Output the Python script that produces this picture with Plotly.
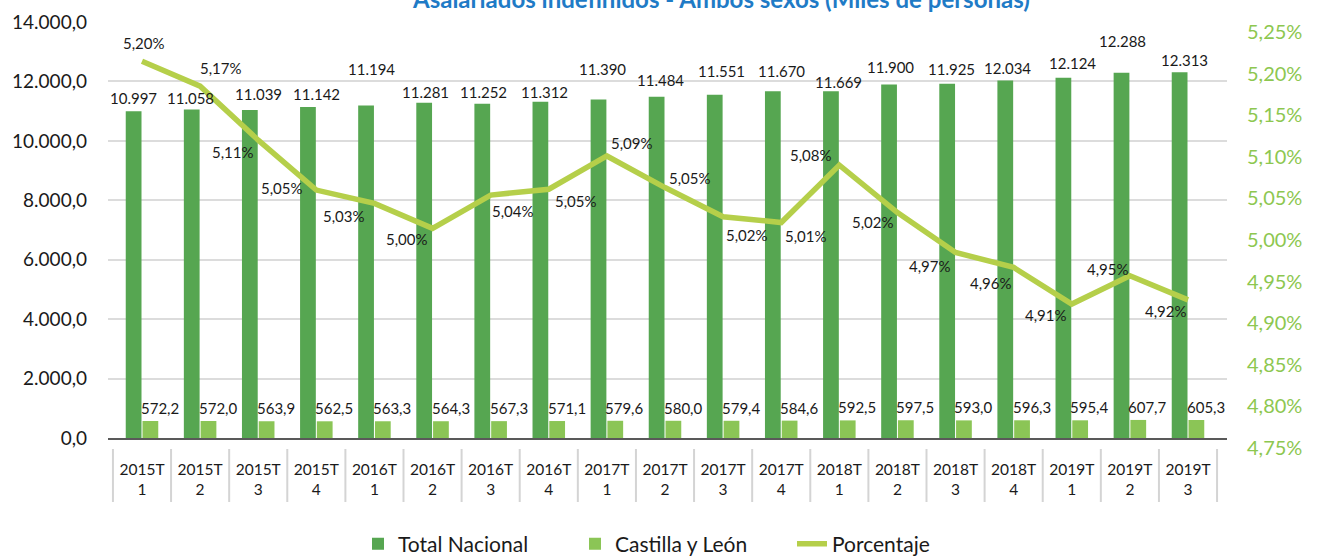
import plotly.graph_objects as go

# ---------------- data ----------------
categories = ["2015T1", "2015T2", "2015T3", "2015T4", "2016T1", "2016T2", "2016T3", "2016T4",
              "2017T1", "2017T2", "2017T3", "2017T4", "2018T1", "2018T2", "2018T3", "2018T4",
              "2019T1", "2019T2", "2019T3"]
tick_labels = ["2015T<br>1", "2015T<br>2", "2015T<br>3", "2015T<br>4", "2016T<br>1", "2016T<br>2",
               "2016T<br>3", "2016T<br>4", "2017T<br>1", "2017T<br>2", "2017T<br>3", "2017T<br>4",
               "2018T<br>1", "2018T<br>2", "2018T<br>3", "2018T<br>4", "2019T<br>1", "2019T<br>2",
               "2019T<br>3"]
total_nacional = [10997, 11058, 11039, 11142, 11194, 11281, 11252, 11312, 11390, 11484,
                  11551, 11670, 11669, 11900, 11925, 12034, 12124, 12288, 12313]
castilla_leon = [572.2, 572.0, 563.9, 562.5, 563.3, 564.3, 567.3, 571.1, 579.6, 580.0,
                 579.4, 584.6, 592.5, 597.5, 593.0, 596.3, 595.4, 607.7, 605.3]
porcentaje = [5.203, 5.173, 5.108, 5.048, 5.032, 5.002, 5.042, 5.049, 5.089, 5.051,
              5.016, 5.009, 5.078, 5.021, 4.973, 4.955, 4.911, 4.945, 4.916]

title_text = "Asalariados indefinidos - Ambos sexos (Miles de personas)"

# label offsets (px) – styling only
total_lbl_dx = [-8.5, -9.4, 0.4, 0, -3, -7, -7, -4, -4, -4.6, -1.5, 0.6, -1.3, -7, -4, -6, 1, -7, -3.3]
total_lbl_dy = [13, 11, 16, 13, 36, 11, 12, 10, 31, 17, 24, 20, 9, 17, 15, 12, 15, 32, 12]
pct_lbl_dx = [2, 21, -25, -34, -30, -26, 22, 27, 25, 25, 24, 25, -28, -24, -26, -23, -26, -22, -22]
pct_lbl_dy = [-18, -18, 12, -2, 13, 11, 16, 12, -13, -10, 18, 13, -10, 9, 14, 16, 11, -7, 11]

FONT = "Lato, 'Liberation Sans', Arial, sans-serif"
TXT = "#1a1a1a"
DARK = "#56a651"
LIGHT = "#8bc556"
LINE = "#b5cf4a"
AXGREEN = "#8dc750"


def es_num(v, dec):
    s = f"{v:,.{dec}f}"
    return s.replace(",", "X").replace(".", ",").replace("X", ".")


fig = go.Figure()
fig.add_trace(go.Bar(x=categories, y=total_nacional, name="Total Nacional",
                     marker=dict(color=DARK, line=dict(width=0)), yaxis="y"))
fig.add_trace(go.Bar(x=categories, y=castilla_leon, name="Castilla y León",
                     marker=dict(color=LIGHT, line=dict(width=0)), yaxis="y"))
fig.add_trace(go.Scatter(x=categories, y=porcentaje, name="Porcentaje", mode="lines",
                         line=dict(color=LINE, width=5.5), yaxis="y2"))

annotations = []
for i, c in enumerate(categories):
    annotations.append(dict(x=c, y=total_nacional[i], xref="x", yref="y",
                            text=es_num(total_nacional[i], 0), showarrow=False,
                            xshift=total_lbl_dx[i], yshift=total_lbl_dy[i], yanchor="middle",
                            font=dict(family=FONT, size=15, color=TXT)))
    annotations.append(dict(x=c, y=castilla_leon[i], xref="x", yref="y",
                            text=es_num(castilla_leon[i], 1), showarrow=False,
                            xshift=18, yshift=13, yanchor="middle",
                            font=dict(family=FONT, size=15, color=TXT)))
    annotations.append(dict(x=c, y=porcentaje[i], xref="x", yref="y2",
                            text=es_num(porcentaje[i], 2) + "%", showarrow=False,
                            xshift=pct_lbl_dx[i], yshift=-pct_lbl_dy[i], yanchor="middle",
                            font=dict(family=FONT, size=15, color=TXT)))

annotations.append(dict(x=0.548, y=1, xref="paper", yref="paper", yshift=24, yanchor="middle",
                        text="<b>" + title_text + "</b>", showarrow=False,
                        font=dict(family=FONT, size=24, color="#1f7bc6")))

shapes = []
for i in range(len(categories) + 1):
    shapes.append(dict(type="line", xref="x", yref="paper", x0=i - 0.5, x1=i - 0.5,
                       y0=-0.0264, y1=-0.1538, line=dict(color="#d4d4d4", width=2)))

fig.update_layout(
    width=1320, height=556,
    margin=dict(l=108, r=93, t=22, b=118, autoexpand=False),
    paper_bgcolor="white", plot_bgcolor="white",
    separators=",.",
    barmode="group", bargap=0.423, bargroupgap=0.06,
    font=dict(family=FONT, color=TXT),
    xaxis=dict(type="category", tickvals=categories, ticktext=tick_labels,
               showline=True, linecolor="#595959", linewidth=2, ticks="",
               showgrid=False, ticklabelstandoff=16, automargin=False,
               tickfont=dict(family=FONT, size=15.5, color=TXT)),
    yaxis=dict(range=[0, 14000], dtick=2000, tickformat=",.1f", showgrid=True,
               gridcolor="#dcdcdc", gridwidth=2, zeroline=False, ticks="",
               ticklabelstandoff=20, automargin=False,
               tickfont=dict(family=FONT, size=19, color=TXT)),
    yaxis2=dict(range=[4.7499, 5.2501], dtick=0.05, tick0=4.75, tickformat=".2f", ticksuffix="%",
                overlaying="y", side="right", showgrid=False, zeroline=False, ticks="",
                ticklabelstandoff=19, ticklabelshift=10, automargin=False,
                tickfont=dict(family=FONT, size=20, color=AXGREEN)),
    legend=dict(orientation="h", x=(358 - 108) / 1119, xanchor="left", y=-0.255, yanchor="middle",
                entrywidth=172, entrywidthmode="pixels",
                font=dict(family=FONT, size=21, color=TXT), traceorder="normal"),
    annotations=annotations,
    shapes=shapes,
)

fig.write_html("out.html", config={"displayModeBar": False},
               post_script="document.body.style.margin='0';")
